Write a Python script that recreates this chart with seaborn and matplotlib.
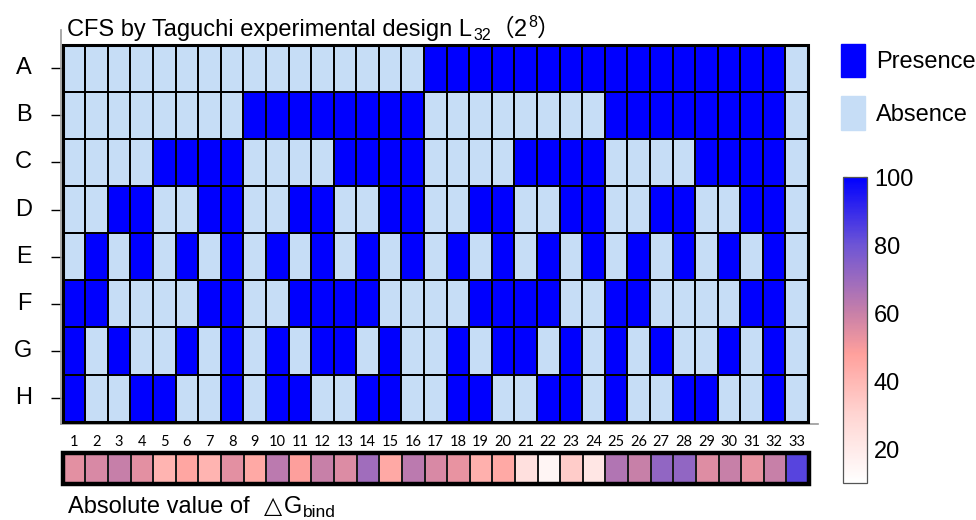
import numpy as np
import pandas as pd
import seaborn as sns
import matplotlib.pyplot as plt
from matplotlib.colors import ListedColormap, LinearSegmentedColormap
from matplotlib.patches import Patch, Rectangle

# ---- data -------------------------------------------------------------
factors = ["A", "B", "C", "D", "E", "F", "G", "H"]
runs = list(range(1, 34))

# 1 = factor present in the run, 0 = absent
A = [0,0,0,0,0,0,0,0,0,0,0,0,0,0,0,0,1,1,1,1,1,1,1,1,1,1,1,1,1,1,1,1,0]
B = [0,0,0,0,0,0,0,0,1,1,1,1,1,1,1,1,0,0,0,0,0,0,0,0,1,1,1,1,1,1,1,1,0]
C = [0,0,0,0,1,1,1,1,0,0,0,0,1,1,1,1,0,0,0,0,1,1,1,1,0,0,0,0,1,1,1,1,0]
D = [0,0,1,1,0,0,1,1,0,0,1,1,0,0,1,1,0,0,1,1,0,0,1,1,0,0,1,1,0,0,1,1,0]
E = [0,1,0,1,0,1,0,1,0,1,0,1,0,1,0,1,0,1,0,1,0,1,0,1,0,1,0,1,0,1,0,1,0]
F = [1,1,0,0,0,0,1,1,0,0,1,1,1,1,0,0,0,0,1,1,1,1,0,0,1,1,0,0,0,0,1,1,0]
G = [1,0,1,0,0,1,0,1,0,1,0,1,1,0,1,0,0,1,0,1,1,0,1,0,1,0,1,0,0,1,0,1,0]
Hf = [1,0,0,1,1,0,0,1,0,1,1,0,0,1,1,0,0,1,1,0,0,1,1,0,1,0,0,1,1,0,0,1,0]

# absolute binding free energy per run (colour scale 10-100)
dg_abs = [54, 56.5, 60.5, 54, 41, 46, 41, 54, 45, 63, 48.5, 60, 55.5, 69, 45, 63,
          56.5, 53, 42.5, 45, 25, 15, 33, 22, 65, 60, 72, 72, 55, 60, 53, 60, 84]
cbar_ticks = [20, 40, 60, 80, 100]

# ---- style ------------------------------------------------------------
sns.set_theme(style="white")
SANS = ["Liberation Sans", "DejaVu Sans"]
CJK = ["Noto Sans CJK SC", "DejaVu Sans"]
plt.rcParams["font.family"] = SANS
plt.rcParams["text.color"] = "black"
plt.rcParams["xtick.color"] = "black"
plt.rcParams["ytick.color"] = "black"

presence = "#0000FF"
absence = "#C6DDF6"

W, H = 976, 520
fig = plt.figure(figsize=(W / 100, H / 100), dpi=100)


def fx(px):
    return px / W


def fy(py):
    return 1 - py / H


# ---- design matrix ----------------------------------------------------
design = pd.DataFrame([A, B, C, D, E, F, G, Hf], index=factors, columns=runs)

ax = fig.add_axes([fx(61), fy(424), fx(818) - fx(61), (424 - 30) / H])
sns.heatmap(design, cmap=ListedColormap([absence, presence]), vmin=0, vmax=1,
            cbar=False, linewidths=1.3, linecolor="black",
            xticklabels=runs, yticklabels=factors, ax=ax)
ax.set_xlim(-0.075, 33.44)
ax.set_ylim(8.05, -0.31)
ax.add_patch(Rectangle((0, 0), 33, 8, fill=False, ec="black", lw=2.2,
                       transform=ax.transData, clip_on=False, zorder=5))
for side in ("top", "right"):
    ax.spines[side].set_visible(False)
for side in ("left", "bottom"):
    ax.spines[side].set_visible(True)
    ax.spines[side].set_color("#9a9a9a")
    ax.spines[side].set_linewidth(1.2)

ax.tick_params(axis="x", length=0, pad=8, labelsize=10.5)
ax.set_xticklabels(runs, rotation=0)
for lbl in ax.get_xticklabels():
    lbl.set_family("Lato")
ax.tick_params(axis="y", left=True, length=7, width=1, pad=14, labelsize=17)
ax.set_yticklabels(factors, rotation=0)
ax.set_xlabel("")
ax.set_ylabel("")

# ---- binding energy strip + colour bar ---------------------------------
dg_cmap = LinearSegmentedColormap.from_list(
    "dg",
    [(0.0, "#FFFFFF"), (20 / 90, "#FFD5D2"), (38 / 90, "#FFA09C"),
     (50 / 90, "#C880A8"), (70 / 90, "#6E55D5"), (1.0, "#0000FF")])

ax2 = fig.add_axes([fx(62.7), fy(484), fx(809) - fx(62.7), (484 - 453) / H])
cax = fig.add_axes([fx(843), fy(483), fx(867) - fx(843), (483 - 177) / H])
strip = pd.DataFrame([dg_abs], columns=runs)
sns.heatmap(strip, cmap=dg_cmap, vmin=10, vmax=100, linewidths=1.2,
            linecolor="#1c1c1c", xticklabels=False, yticklabels=False,
            cbar_ax=cax, cbar_kws={"ticks": cbar_ticks}, ax=ax2)
ax2.add_patch(Rectangle((0, 0), 33, 1, fill=False, ec="black", lw=3.2,
                        transform=ax2.transData, clip_on=False, zorder=5))
ax2.set_xlabel("")
ax2.set_ylabel("")

cbar = ax2.collections[0].colorbar
cbar.outline.set_edgecolor("#555555")
cbar.outline.set_linewidth(0.9)
cax.tick_params(labelsize=17, direction="in", length=3, width=0.8,
                left=True, right=True, pad=5)

# ---- legend -----------------------------------------------------------
handles = [Patch(fc=presence, ec=presence, label="Presence"),
           Patch(fc=absence, ec=absence, label="Absence")]
fig.legend(handles=handles, loc="upper left", bbox_to_anchor=(fx(841), fy(44)),
           frameon=False, fontsize=17, handlelength=1.0, handleheight=1.8,
           handletextpad=0.5, labelspacing=0.8, borderpad=0, borderaxespad=0)

# ---- titles with sub/superscripts --------------------------------------
renderer = fig.canvas.get_renderer()


def text_run(x_px, base_px, pieces):
    """Draw text pieces one after another on a common baseline."""
    x = x_px
    for s, size, dy, family, gap in pieces:
        x += gap
        t = fig.text(fx(x), fy(base_px - dy), s, fontsize=size, family=family,
                     ha="left", va="baseline")
        bb = t.get_window_extent(renderer)
        x = bb.x1


text_run(67, 36, [
    ("CFS by Taguchi experimental design L", 17, 0, SANS, 0),
    ("32", 11.5, -4, SANS, 1),
    ("（", 17, 0, CJK, 0),
    ("2", 17, 0, SANS, 0),
    ("8", 11.5, 9, SANS, 1),
    ("）", 17, 0, CJK, 0),
])

text_run(68, 513, [
    ("Absolute value of", 17, 0, SANS, 0),
    ("△", 17, 0, ["DejaVu Sans"], 14),
    ("G", 17, 0, SANS, 2),
    ("bind", 12.5, -4, SANS, 1),
])

fig.savefig("out.png", dpi=100)
